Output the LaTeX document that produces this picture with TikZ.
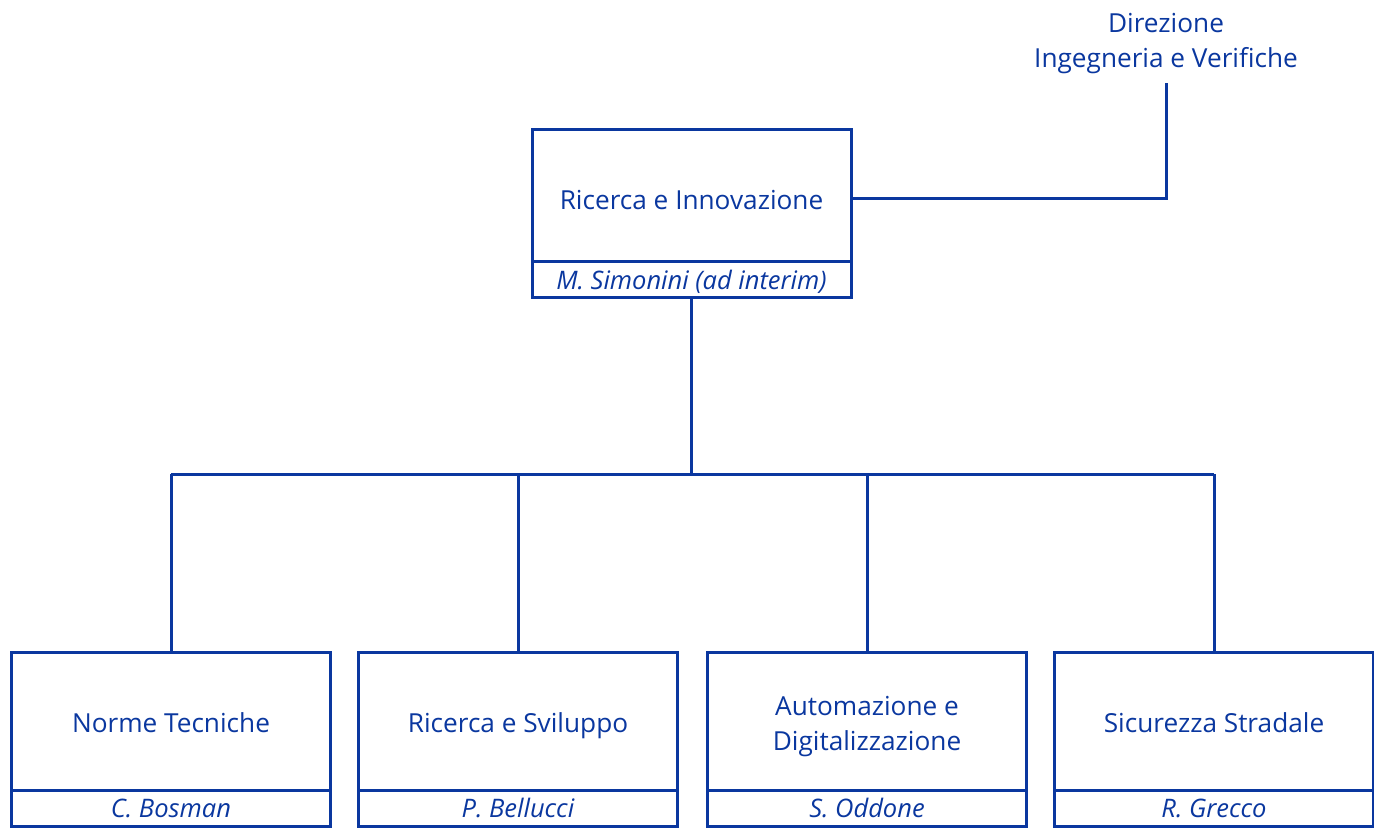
\documentclass[tikz,border=0pt]{standalone}
\usepackage{fontspec}
\setmainfont{Open Sans}
\definecolor{orgblue}{HTML}{0A379F}
\begin{document}
\begin{tikzpicture}[x=1pt,y=-1pt,
  line width=3pt, draw=orgblue,
  unit/.style={text=orgblue, font=\fontsize{26.2}{35}\selectfont, align=center},
  person/.style={text=orgblue, font=\fontsize{25.5}{30}\selectfont\itshape, anchor=base},
  box/.style={draw=orgblue, line width=3pt}]
\useasboundingbox (0,0) rectangle (1374,829);
% top box
\draw[box] (532,130) rectangle (851,297);
\draw[box] (532,262) -- (851,262);
\node[unit, anchor=base] (ri) at (691.5,210) {Ricerca e Innovazione};
\node[person] (ms) at (691.5,290) {M. Simonini (ad interim)};
\coordinate (ritop) at (691.5,297);
\coordinate (riright) at (851,199);
% direction
\node[unit, inner sep=0pt] (dir) at (1166,43.5) {Direzione\\Ingegneria e Verifiche};
\coordinate (dirbot) at (1166,83);
\draw[orgblue] (riright) -| (dirbot);
% bus
\coordinate (bus) at (691.5,474);
\draw[orgblue] (ritop) -- (bus);
\draw[orgblue] (171,474) -- (1214,474);
% bottom boxes
\foreach \cx/\nm/\ttl/\pp/\ty/\anc in {171/a/{Norme Tecniche}/{C. Bosman}/732/base,
                              518/b/{Ricerca e Sviluppo}/{P. Bellucci}/732/base,
                              867/c/{Automazione e\\Digitalizzazione}/{S. Oddone}/726.5/center,
                              1214/d/{Sicurezza Stradale}/{R. Grecco}/732/base} {
  \draw[box] (\cx-160,652) rectangle (\cx+159.5,826);
  \draw[box] (\cx-160,790) -- (\cx+159.5,790);
  \node[unit, anchor=\anc] (\nm) at (\cx,\ty) {\ttl};
  \node[person] (\nm p) at (\cx,817) {\pp};
  \draw[orgblue] (\cx,474) -- (\cx,652);
}
\end{tikzpicture}
\end{document}
